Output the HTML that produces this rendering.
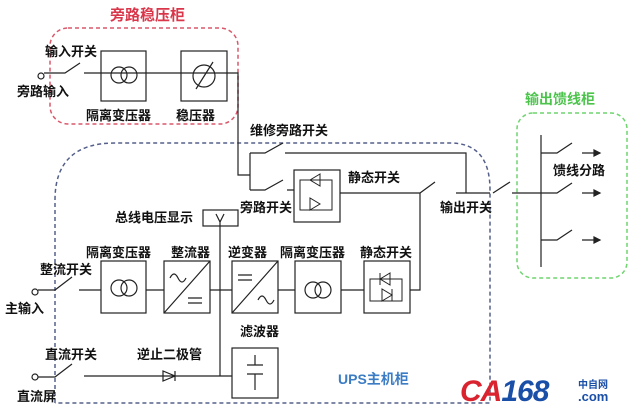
<!DOCTYPE html><html><head><meta charset="utf-8"><style>body{margin:0;background:#fff}svg{display:block}text{font-family:"Liberation Sans","Noto Sans CJK SC",sans-serif;font-size:13px;font-weight:bold;fill:#111}</style></head><body>
<svg width="640" height="419" viewBox="0 0 640 419" xmlns="http://www.w3.org/2000/svg">
<g fill="none" stroke-width="1.5">
<rect x="50" y="28" width="188" height="96" rx="18" stroke="#d9596b" stroke-dasharray="4,3"/>
<path d="M55 403 V200 Q55 143 115 143 H450 Q490 143 490 190 V403 H55" stroke="#55608a" stroke-dasharray="4,3" />
<rect x="517" y="113" width="110" height="165" rx="16" stroke="#6fd46f" stroke-dasharray="4,3"/>
</g>
<g fill="none" stroke="#222" stroke-width="1.2">
<circle cx="41" cy="76" r="3"/><circle cx="35" cy="292" r="3"/><circle cx="35" cy="377" r="3"/>
<path d="M44 73H65L80 63M84 73H238V175H250M250 153V190M250 153H265L283 143M285 153H466V193M250 190H265L283 180M287 190H294"/>
<rect x="101" y="51" width="45" height="50"/><rect x="181" y="51" width="46" height="50"/>
<circle cx="119" cy="75" r="8"/><circle cx="129" cy="75" r="8"/><circle cx="204" cy="76" r="11"/><path d="M196 89L213 62"/>
<rect x="294" y="170" width="46" height="52"/>
<path d="M300 180H332V210H300ZM310 180L320 174V186ZM320 174V186M310 210L320 204L310 198Z" stroke-width="1"/>
<path d="M340 193H420L435 182M456 193H490M493 193L510 182M512 193H541M541 135V267M541 153H557L572 143M582 153H600M541 193H557L572 183M582 193H600M541 240H557L572 230M582 240H600"/>
<path d="M600 153l-6-3v6zM600 193l-6-3v6zM600 240l-6-3v6z" fill="#222"/>
<path d="M38 290H55L72 277M79 290H101M146 290H164M210 290H232M278 290H295M341 290H364M410 290H420V193"/>
<rect x="101" y="261" width="45" height="52"/><circle cx="119" cy="288" r="8"/><circle cx="129" cy="288" r="8"/>
<rect x="164" y="261" width="46" height="52"/><path d="M164 313L210 261M170 278q4-8 8 0t8 0M188 298H202M188 303H202"/>
<rect x="232" y="261" width="46" height="52"/><path d="M232 313L278 261M238 275H252M238 280H252M258 300q4-8 8 0t8 0"/>
<rect x="295" y="261" width="46" height="52"/><circle cx="313" cy="290" r="8"/><circle cx="323" cy="290" r="8"/>
<rect x="364" y="261" width="46" height="52"/><path d="M370 279H402V301H370ZM380 279L390 273V285ZM380 273V285M382 301L392 295L382 289ZM392 289V301" stroke-width="1"/>
<rect x="203" y="210" width="35" height="16"/><path d="M216 214L220 222L224 214M220 222V376"/>
<path d="M38 377H55L72 364M84 376H232M163 371V381L175 376ZM175 371V381"/>
<rect x="232" y="348" width="46" height="50"/><path d="M247 365H263M247 374H263M255 355V365M255 374V390"/>
</g>
<text x="110" y="20" style="fill:#d9364a;font-size:15px">旁路稳压柜</text>
<text x="45" y="56">输入开关</text><text x="17" y="96">旁路输入</text>
<text x="86" y="120">隔离变压器</text><text x="176" y="120">稳压器</text>
<text x="250" y="135">维修旁路开关</text><text x="240" y="212">旁路开关</text>
<text x="348" y="182">静态开关</text><text x="440" y="212">输出开关</text>
<text x="525" y="104" style="fill:#4cc44c;font-size:14px">输出馈线柜</text>
<text x="553" y="175">馈线分路</text>
<text x="115" y="222">总线电压显示</text>
<text x="86" y="257">隔离变压器</text><text x="171" y="257">整流器</text><text x="228" y="257">逆变器</text><text x="280" y="257">隔离变压器</text><text x="360" y="257">静态开关</text>
<text x="40" y="274">整流开关</text><text x="5" y="313">主输入</text>
<text x="240" y="336">滤波器</text><text x="45" y="359">直流开关</text><text x="137" y="359">逆止二极管</text><text x="17" y="401">直流屏</text>
<text x="338" y="384" style="fill:#3b7cc4;font-size:14px">UPS主机柜</text>
<text x="460" y="401" style="font-size:30px;font-style:italic;fill:#1a4fa8;letter-spacing:-1px"><tspan style="fill:#d9232e">CA</tspan>168</text>
<text x="578" y="388" style="font-size:10px;fill:#1a4fa8">中自网</text>
<text x="578" y="401" style="font-size:13px;fill:#1a4fa8">.com</text>
</svg></body></html>
